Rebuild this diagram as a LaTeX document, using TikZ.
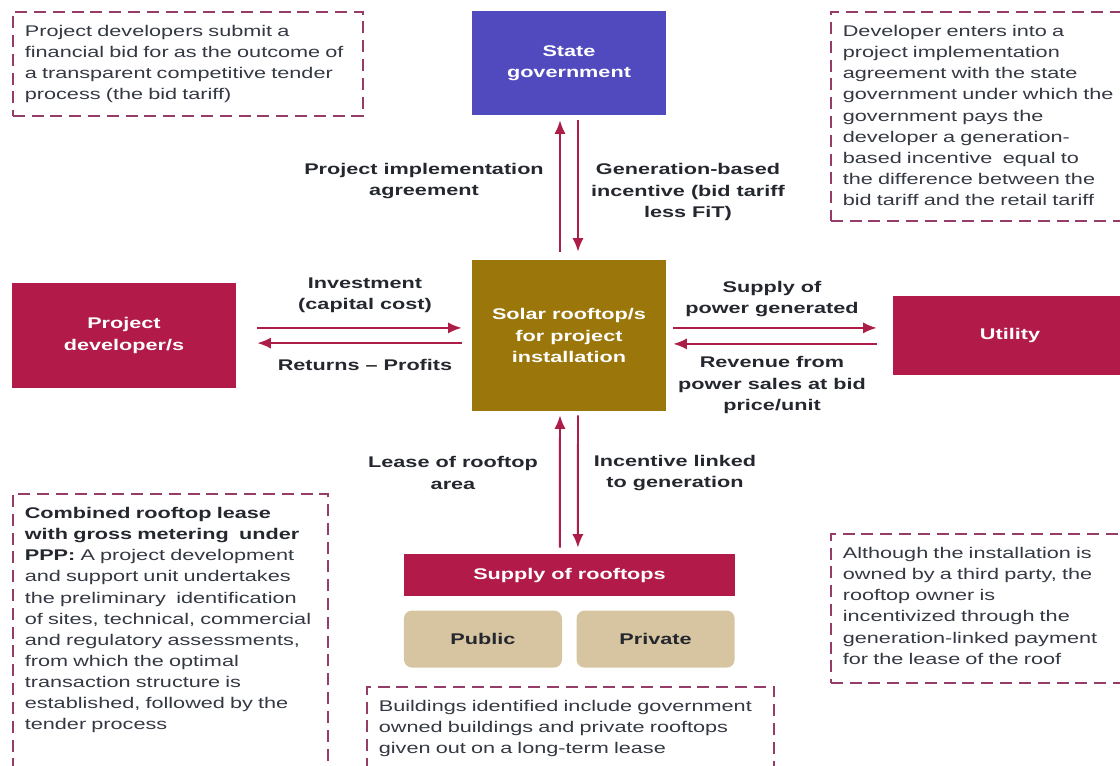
\documentclass[tikz,border=0pt]{standalone}
\usepackage{fontspec}
\setmainfont{Liberation Sans}[FakeStretch=1.4]
\usetikzlibrary{positioning,arrows.meta}

\definecolor{stateblue}{RGB}{80,74,190}
\definecolor{crimson}{RGB}{178,26,74}
\definecolor{solargold}{RGB}{155,118,10}
\definecolor{rooftan}{RGB}{214,197,160}
\definecolor{notemauve}{RGB}{150,60,105}
\definecolor{flowred}{RGB}{172,30,72}
\definecolor{inkgrey}{RGB}{52,56,66}

\begin{document}
\begin{tikzpicture}
[x=0.025cm,y=-0.025cm,>={Latex[length=3.4mm,width=2.8mm]},
every node/.style={font=\fontsize{11}{15}\selectfont},
box/.style={minimum width=4.85cm, text=white, font=\fontsize{11}{15}\selectfont\bfseries, align=center, inner sep=2pt},
roofbox/.style={fill=rooftan, rounded corners=0.2cm, minimum width=3.95cm, minimum height=1.425cm, text=inkgrey!70!black, font=\fontsize{11}{15}\selectfont\bfseries},
lbl/.style={text=inkgrey!70!black, font=\fontsize{11}{15}\selectfont\bfseries, align=center},
flow/.style={flowred, line width=1.4pt},
note/.style={draw=notemauve, line width=1.2pt, dash pattern=on 0.3cm off 0.17cm, text=inkgrey, align=left, anchor=north west, inner xsep=0.3cm, inner ysep=0.1cm, text height=0.52cm}]
\useasboundingbox (0,0) rectangle (1120,765);

% actors round the rooftop plant
\node[box, fill=solargold, minimum height=3.775cm] (solar) at (569,335.5) {Solar rooftop/s\\for project\\installation};
\node[box, fill=stateblue, minimum height=2.6cm] (state) at (569,63) {State\\government};
\node[box, fill=crimson, minimum width=5.6cm, minimum height=2.625cm] (devel) at (124,335.5) {Project\\developer/s};
\node[box, fill=crimson, minimum width=5.85cm, minimum height=1.975cm] (utility) at (1010,335.5) {Utility};
\node[box, fill=crimson, minimum width=8.275cm, minimum height=1.05cm] (rooftops) at (569.5,575) {Supply of rooftops};
\node[roofbox, below right=0.35cm and 0cm of rooftops.south west] (public) {Public};
\node[roofbox, right=0.35cm of public] (private) {Private};

% flows
\draw[flow,->,shorten <=0.2cm,shorten >=0.125cm] ([xshift=-0.225cm]solar.north) -- ([xshift=-0.225cm]state.south);
\draw[flow,->,shorten <=0.125cm,shorten >=0.2cm] ([xshift=0.225cm]state.south) -- ([xshift=0.225cm]solar.north);
\draw[flow,->,shorten <=0.525cm,shorten >=0.25cm] ([yshift=0.19cm]devel.east) -- ([yshift=0.19cm]solar.west);
\draw[flow,->,shorten <=0.25cm,shorten >=0.525cm] ([yshift=-0.19cm]solar.west) -- ([yshift=-0.19cm]devel.east);
\draw[flow,->,shorten <=0.175cm,shorten >=0.4cm] ([yshift=0.19cm]solar.east) -- ([yshift=0.19cm]utility.west);
\draw[flow,->,shorten <=0.4cm,shorten >=0.175cm] ([yshift=-0.21cm]utility.west) -- ([yshift=-0.21cm]solar.east);
\draw[flow,->,shorten <=0.15cm,shorten >=0.1cm] ([xshift=-0.24cm]rooftops.north) -- ([xshift=-0.225cm]solar.south);
\draw[flow,->,shorten <=0.1cm,shorten >=0.15cm] ([xshift=0.225cm]solar.south) -- ([xshift=0.21cm]rooftops.north);

% flow labels
\node[lbl] (pia) at (424,181) {Project implementation\\agreement};
\node[lbl] (gbi) at (688,192) {Generation-based\\incentive (bid tariff\\less FiT)};
\node[lbl] (inv) at (365,295) {Investment\\(capital cost)};
\node[lbl] (ret) at (365,365) {Returns – Profits};
\node[lbl] (spg) at (772,299) {Supply of\\power generated};
\node[lbl] (rev) at (772,385) {Revenue from\\power sales at bid\\price/unit};
\node[lbl] (lease) at (453,473) {Lease of rooftop\\area};
\node[lbl] (inc) at (675,473) {Incentive linked\\to generation};

% side notes
\node[note, text width=8.15cm, text depth=1.88cm] (bidnote) at (12,11)
  {Project developers submit a\\financial bid for as the outcome of\\a transparent competitive tender\\process (the bid tariff)};
\node[note, text width=7.0cm, text depth=4.505cm] (pianote) at (830,11)
  {Developer enters into a\\project implementation\\agreement with the state\\government under which the\\government pays the\\developer a generation-\\based incentive~ equal to\\the difference between the\\bid tariff and the retail tariff};
\node[note, text width=7.275cm, text depth=7cm] (pppnote) at (12,493)
  {{\color{inkgrey!70!black}\bfseries Combined rooftop lease\\with gross metering~ under\\PPP:} A project development\\and support unit undertakes\\the preliminary~ identification\\of sites, technical, commercial\\and regulatory assessments,\\from which the optimal\\transaction structure is\\established, followed by the\\tender process};
\node[note, text width=7.0cm, text depth=3.005cm] (leasenote) at (830,533)
  {Although the installation is\\owned by a third party, the\\rooftop owner is\\incentivized through the\\generation-linked payment\\for the lease of the roof};
\node[note, text width=9.575cm, text depth=3cm] (bldgnote) at (366,686)
  {Buildings identified include government\\owned buildings and private rooftops\\given out on a long-term lease};
\end{tikzpicture}
\end{document}
